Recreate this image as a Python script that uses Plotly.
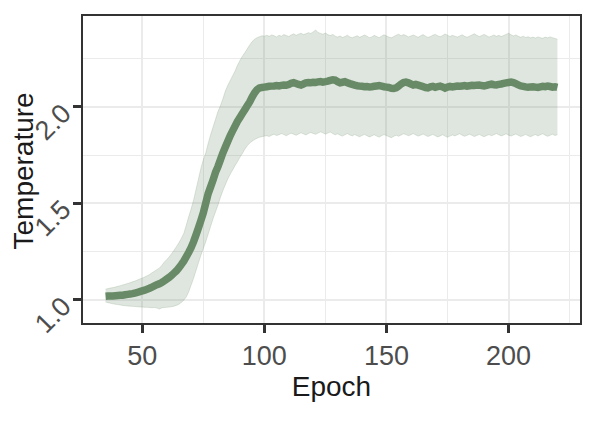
import plotly.graph_objects as go

epochs = list(range(35, 221))

temp_mean = [
    1.018, 1.019, 1.020, 1.020, 1.021, 1.022, 1.023, 1.024, 1.026, 1.028,  # 35-44
    1.030, 1.032, 1.035, 1.038, 1.042, 1.046, 1.050, 1.055, 1.060, 1.066,  # 45-54
    1.072, 1.078, 1.083, 1.090, 1.098, 1.107, 1.116, 1.126, 1.138, 1.150,  # 55-64
    1.165, 1.182, 1.200, 1.222, 1.245, 1.270, 1.300, 1.335, 1.372, 1.410,  # 65-74
    1.450, 1.500, 1.550, 1.585, 1.620, 1.660, 1.690, 1.725, 1.760, 1.790,  # 75-84
    1.820, 1.850, 1.875, 1.900, 1.925, 1.945, 1.965, 1.985, 2.005, 2.025,  # 85-94
    2.050, 2.072, 2.088, 2.097, 2.100, 2.102, 2.104, 2.106, 2.107, 2.108,  # 95-104
    2.110, 2.108, 2.111, 2.113, 2.112, 2.115, 2.122, 2.125, 2.121, 2.116,  # 105-114
    2.113, 2.118, 2.124, 2.126, 2.125, 2.127, 2.126, 2.129, 2.131, 2.128,  # 115-124
    2.130, 2.133, 2.137, 2.140, 2.138, 2.130, 2.124, 2.127, 2.130, 2.125,  # 125-134
    2.120, 2.116, 2.112, 2.109, 2.107, 2.106, 2.104, 2.105, 2.103, 2.104,  # 135-144
    2.106, 2.108, 2.110, 2.107, 2.104, 2.102, 2.100, 2.096, 2.095, 2.098,  # 145-154
    2.107, 2.118, 2.125, 2.128, 2.124, 2.118, 2.113, 2.116, 2.112, 2.108,  # 155-164
    2.104, 2.100, 2.098, 2.103, 2.106, 2.101, 2.104, 2.107, 2.103, 2.097,  # 165-174
    2.102, 2.106, 2.103, 2.105, 2.107, 2.106, 2.108, 2.110, 2.107, 2.109,  # 175-184
    2.111, 2.110, 2.112, 2.113, 2.110, 2.108, 2.111, 2.115, 2.117, 2.114,  # 185-194
    2.113, 2.116, 2.118, 2.121, 2.124, 2.126, 2.128, 2.125, 2.120, 2.113,  # 195-204
    2.108, 2.106, 2.103, 2.101, 2.103, 2.104, 2.102, 2.100, 2.103, 2.106,  # 205-214
    2.104, 2.107, 2.105, 2.102, 2.104, 2.101,                              # 215-220
]

temp_upper = [
    1.055, 1.058, 1.061, 1.063, 1.066, 1.070, 1.073, 1.077, 1.080, 1.085,  # 35-44
    1.088, 1.093, 1.097, 1.102, 1.108, 1.112, 1.118, 1.124, 1.131, 1.140,  # 45-54
    1.148, 1.156, 1.164, 1.178, 1.195, 1.208, 1.222, 1.238, 1.256, 1.275,  # 55-64
    1.295, 1.318, 1.343, 1.385, 1.430, 1.470, 1.515, 1.570, 1.625, 1.680,  # 65-74
    1.725, 1.760, 1.810, 1.855, 1.895, 1.935, 1.975, 2.005, 2.040, 2.080,  # 75-84
    2.110, 2.135, 2.160, 2.185, 2.215, 2.240, 2.262, 2.280, 2.300, 2.320,  # 85-94
    2.338, 2.350, 2.358, 2.363, 2.368, 2.366, 2.370, 2.365, 2.372, 2.368,  # 95-104
    2.362, 2.370, 2.366, 2.374, 2.369, 2.364, 2.372, 2.378, 2.370, 2.376,  # 105-114
    2.381, 2.374, 2.378, 2.384, 2.380, 2.388, 2.398, 2.385, 2.380, 2.376,  # 115-124
    2.382, 2.374, 2.369, 2.375, 2.366, 2.361, 2.367, 2.359, 2.364, 2.371,  # 125-134
    2.362, 2.357, 2.363, 2.368, 2.360, 2.365, 2.372, 2.366, 2.358, 2.362,  # 135-144
    2.370, 2.364, 2.358, 2.366, 2.373, 2.367, 2.361, 2.357, 2.364, 2.371,  # 145-154
    2.376, 2.368, 2.374, 2.369, 2.362, 2.367, 2.372, 2.366, 2.360, 2.368,  # 155-164
    2.374, 2.366, 2.359, 2.364, 2.371, 2.375, 2.368, 2.363, 2.369, 2.377,  # 165-174
    2.371, 2.364, 2.370, 2.366, 2.361, 2.367, 2.373, 2.365, 2.360, 2.366,  # 175-184
    2.372, 2.378, 2.370, 2.364, 2.369, 2.375, 2.368, 2.361, 2.366, 2.372,  # 185-194
    2.365, 2.370, 2.364, 2.369, 2.375, 2.381, 2.373, 2.367, 2.372, 2.365,  # 195-204
    2.360, 2.366, 2.359, 2.363, 2.357, 2.361, 2.356, 2.362, 2.358, 2.355,  # 205-214
    2.361, 2.357, 2.362, 2.358, 2.354, 2.350,                              # 215-220
]

temp_lower = [
    0.988, 0.985, 0.982, 0.979, 0.977, 0.975, 0.973, 0.971, 0.969, 0.968,  # 35-44
    0.967, 0.966, 0.965, 0.964, 0.963, 0.962, 0.961, 0.961, 0.960, 0.959,  # 45-54
    0.960, 0.957, 0.952, 0.958, 0.960, 0.961, 0.962, 0.964, 0.967, 0.971,  # 55-64
    0.977, 0.986, 0.998, 1.014, 1.040, 1.075, 1.110, 1.150, 1.190, 1.230,  # 65-74
    1.265, 1.300, 1.340, 1.380, 1.420, 1.455, 1.490, 1.530, 1.565, 1.595,  # 75-84
    1.625, 1.650, 1.672, 1.695, 1.715, 1.738, 1.758, 1.780, 1.798, 1.812,  # 85-94
    1.822, 1.830, 1.837, 1.842, 1.845, 1.848, 1.850, 1.846, 1.853, 1.858,  # 95-104
    1.851, 1.855, 1.861, 1.856, 1.850, 1.857, 1.863, 1.858, 1.852, 1.859,  # 105-114
    1.865, 1.860, 1.854, 1.861, 1.867, 1.862, 1.857, 1.864, 1.870, 1.865,  # 115-124
    1.858, 1.864, 1.869, 1.861, 1.855, 1.860, 1.853, 1.848, 1.855, 1.861,  # 125-134
    1.854, 1.849, 1.856, 1.850, 1.845, 1.851, 1.857, 1.850, 1.844, 1.849,  # 135-144
    1.855, 1.848, 1.843, 1.850, 1.856, 1.851, 1.845, 1.840, 1.847, 1.853,  # 145-154
    1.847, 1.854, 1.860, 1.856, 1.850, 1.855, 1.861, 1.854, 1.848, 1.853,  # 155-164
    1.859, 1.852, 1.846, 1.851, 1.857, 1.850, 1.844, 1.849, 1.855, 1.848,  # 165-174
    1.842, 1.848, 1.854, 1.849, 1.855, 1.860, 1.853, 1.847, 1.852, 1.858,  # 175-184
    1.852, 1.846, 1.851, 1.857, 1.850, 1.845, 1.851, 1.856, 1.850, 1.855,  # 185-194
    1.861, 1.855, 1.849, 1.854, 1.860, 1.853, 1.848, 1.854, 1.859, 1.852,  # 195-204
    1.846, 1.851, 1.857, 1.850, 1.845, 1.851, 1.856, 1.849, 1.855, 1.860,  # 205-214
    1.853, 1.847, 1.852, 1.858, 1.851, 1.855,                              # 215-220
]

x_ticks = [50, 100, 150, 200]
y_ticks = [1.0, 1.5, 2.0]
y_tick_labels = ["1.0", "1.5", "2.0"]

LINE = "#688a66"
FILL = "rgba(104,138,102,0.21)"
EDGE = "rgba(104,138,102,0.2)"

fig = go.Figure()
fig.add_trace(go.Scatter(x=epochs, y=temp_lower, mode="lines",
                         line=dict(color=EDGE, width=1, simplify=False),
                         showlegend=False, hoverinfo="skip"))
fig.add_trace(go.Scatter(x=epochs, y=temp_upper, mode="lines", fill="tonexty",
                         fillcolor=FILL,
                         line=dict(color=EDGE, width=1, simplify=False),
                         showlegend=False, hoverinfo="skip"))
fig.add_trace(go.Scatter(x=epochs, y=temp_mean, mode="lines",
                         line=dict(color=LINE, width=7.5, simplify=False),
                         showlegend=False))

span_x = max(epochs) - min(epochs)
span_y = max(temp_upper) - min(temp_lower)

axis_common = dict(
    automargin=False,
    showline=True, mirror=True, linecolor="#333333", linewidth=1.5,
    ticks="outside", ticklen=8, tickwidth=2.5, tickcolor="#333333",
    showgrid=True, gridcolor="#ebebeb", gridwidth=2,
    tickfont=dict(family="Liberation Sans", size=27, color="#4d4d4d"),
    zeroline=False,
    minor=dict(showgrid=True, gridcolor="#ebebeb", gridwidth=1, ticks=""),
)

# y tick labels (rotated 45°, placed below-left of the tick like ggplot)
annotations = [
    dict(text=lab, x=0, xref="paper", y=val, yref="y", showarrow=False,
         textangle=-45, xanchor="center", yanchor="middle",
         xshift=-30, yshift=-15,
         font=dict(family="Liberation Sans", size=27, color="#4d4d4d"))
    for val, lab in zip(y_ticks, y_tick_labels)
]
annotations.append(
    dict(text="Temperature", x=0, xref="paper", y=0.5, yref="paper",
         showarrow=False, textangle=-90, xanchor="center", yanchor="middle",
         xshift=-60, yshift=-2,
         font=dict(family="Liberation Sans", size=28, color="#1a1a1a"))
)

# the page body adds an 8px offset, so the figure is sized/margined to compensate
fig.update_layout(
    width=590, height=414,
    margin=dict(l=75, r=18, t=8, b=99),
    paper_bgcolor="white", plot_bgcolor="white",
    font=dict(family="Liberation Sans", color="#1a1a1a"),
    annotations=annotations,
    xaxis=dict(
        range=[min(epochs) - 0.05 * span_x, max(epochs) + 0.05 * span_x],
        tickvals=x_ticks, ticktext=[str(v) for v in x_ticks],
        title=dict(text="Epoch", font=dict(size=28, color="#1a1a1a"), standoff=6),
        **axis_common,
    ),
    yaxis=dict(
        range=[min(temp_lower) - 0.05 * span_y, max(temp_upper) + 0.05 * span_y],
        tickvals=y_ticks, showticklabels=False,
        **axis_common,
    ),
)
fig.update_xaxes(minor=dict(tickvals=[75, 125, 175, 225]))
fig.update_yaxes(minor=dict(tickvals=[1.25, 1.75, 2.25]))

fig.write_html("out.html")
